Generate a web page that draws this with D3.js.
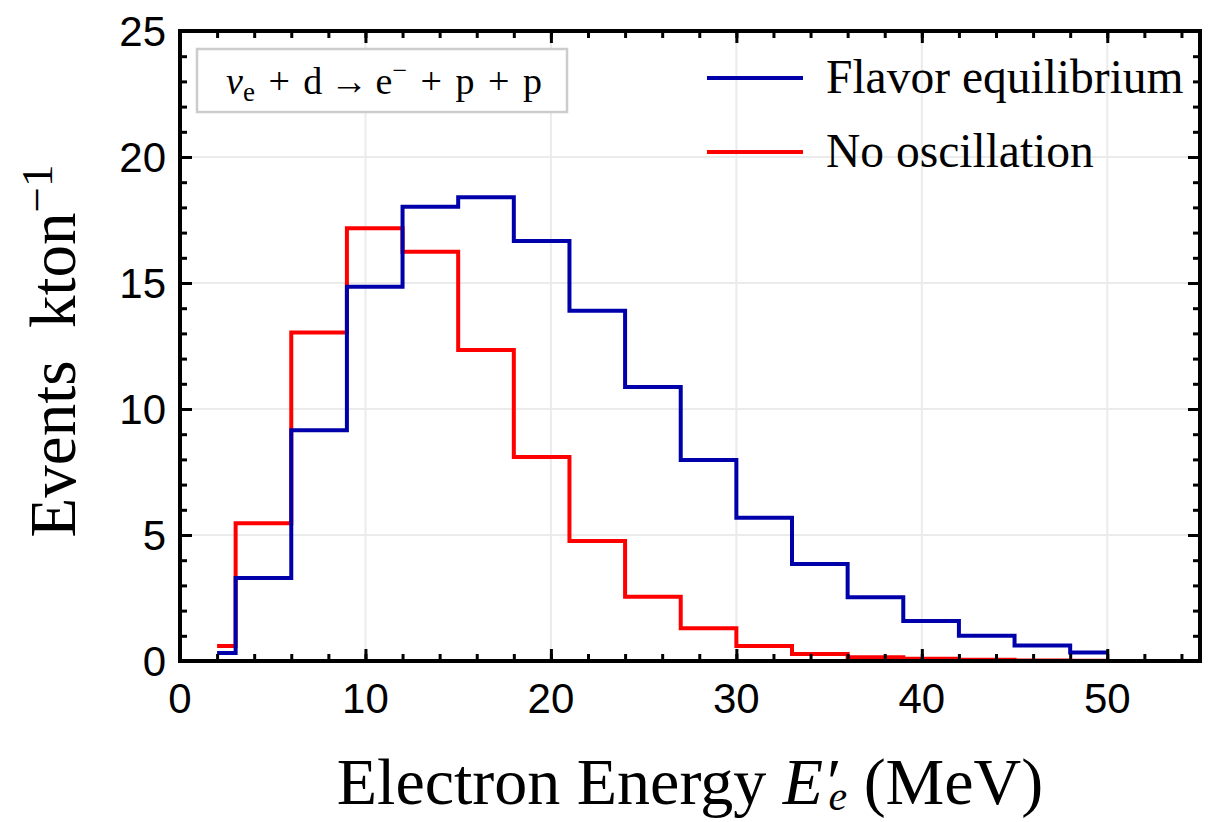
<!DOCTYPE html>
<html>
<head>
<meta charset="utf-8">
<script src="https://cdn.jsdelivr.net/npm/d3@7"></script>
<style>
  body { margin: 0; background: #fff; }
</style>
</head>
<body>
<div id="chart"></div>
<script>
// bin edges (MeV) and event counts per kton
var binEdges = [2, 3, 6, 9, 12, 15, 18, 21, 24, 27, 30, 33, 36, 39, 42, 45, 48, 50];
var flavorEq = [0.32, 3.29, 9.16, 14.85, 18.03, 18.4, 16.67, 13.9, 10.87, 7.98, 5.68, 3.85, 2.53, 1.59, 1.0, 0.62, 0.34];
var noOsc = [0.6, 5.47, 13.04, 17.17, 16.24, 12.34, 8.1, 4.76, 2.55, 1.3, 0.6, 0.28, 0.15, 0.09, 0.05, 0.02, 0.01];
var xTicks = [0, 10, 20, 30, 40, 50];
var yTicks = [0, 5, 10, 15, 20, 25];
var seriesNames = ["Flavor equilibrium", "No oscillation"];
var seriesColors = ["#0000aa", "#ff0000"];

(function(){

var width = 1218,
	height = 822;

var left = 180, right = 1200, top = 31, bottom = 661;

var svg = d3.select("#chart")
	.append("svg")
	.attr("width", width)
	.attr("height", height)

var x = d3.scaleLinear().domain([0, 55]).range([left, right])
var y = d3.scaleLinear().domain([0, 25]).range([bottom, top])

// grid
var grid = svg.append("g").attr("stroke", "#ebebeb").attr("stroke-width", 2)
grid.selectAll(".gx")
	.data(xTicks.filter(function(d){ return d > 0; }))
	.enter().append("line")
	.attr("x1", function(d){ return x(d); })
	.attr("x2", function(d){ return x(d); })
	.attr("y1", top).attr("y2", bottom)
grid.selectAll(".gy")
	.data(yTicks.filter(function(d){ return d > 0 && d < 25; }))
	.enter().append("line")
	.attr("y1", function(d){ return y(d); })
	.attr("y2", function(d){ return y(d); })
	.attr("x1", left).attr("x2", right)

// step lines
var line = d3.line()
	.x(function(d){ return x(d[0]); })
	.y(function(d){ return y(d[1]); })
	.curve(d3.curveStepAfter)

function steps(vals){
	var pts = vals.map(function(v, i){ return [binEdges[i], v]; })
	pts.push([binEdges[binEdges.length - 1], vals[vals.length - 1]])
	return pts
}

var series = [noOsc, flavorEq]
var cols = [seriesColors[1], seriesColors[0]]
svg.selectAll(".hist")
	.data(series)
	.enter().append("path")
	.attr("d", function(d){ return line(steps(d)); })
	.attr("fill", "none")
	.attr("stroke", function(d, i){ return cols[i]; })
	.attr("stroke-width", 4)
	.attr("stroke-linejoin", "miter")

// axes with inward ticks on all four sides
function tickAxis(axisFn, scale, major, minor, transform){
	var g = svg.append("g").attr("transform", transform)
	g.call(axisFn(scale).tickValues(minor).tickSize(-7).tickFormat(""))
	g.select(".domain").remove()
	var g2 = svg.append("g").attr("transform", transform)
	g2.call(axisFn(scale).tickValues(major).tickSize(-12).tickFormat(""))
	g2.select(".domain").remove()
	svg.selectAll(".tick line").attr("stroke-width", 3).attr("stroke", "#000")
}
var xMinor = d3.range(0, 55.1, 2)
var yMinor = d3.range(0, 25.1, 1)
tickAxis(d3.axisBottom, x, xTicks, xMinor, "translate(0," + bottom + ")")
tickAxis(d3.axisTop, x, xTicks, xMinor, "translate(0," + top + ")")
tickAxis(d3.axisLeft, y, yTicks, yMinor, "translate(" + left + ",0)")
tickAxis(d3.axisRight, y, yTicks, yMinor, "translate(" + right + ",0)")

// frame
svg.append("rect")
	.attr("x", left).attr("y", top)
	.attr("width", right - left).attr("height", bottom - top)
	.attr("fill", "none").attr("stroke", "#000").attr("stroke-width", 4)

// tick labels
svg.selectAll(".xl")
	.data(xTicks)
	.enter().append("text")
	.attr("x", function(d){ return x(d); })
	.attr("y", 713)
	.attr("text-anchor", "middle")
	.style("font-family", "Liberation Sans, Arial, sans-serif")
	.style("font-size", "42px")
	.text(function(d){ return d; })
svg.selectAll(".yl")
	.data(yTicks)
	.enter().append("text")
	.attr("x", 166)
	.attr("y", function(d){ return y(d) + 15; })
	.attr("text-anchor", "end")
	.style("font-family", "Liberation Sans, Arial, sans-serif")
	.style("font-size", "42px")
	.text(function(d){ return d; })

// axis titles
var serif = "Liberation Serif, Times New Roman, serif"
var xt = svg.append("text")
	.attr("x", 690).attr("y", 804)
	.attr("text-anchor", "middle")
	.style("font-family", serif)
	.style("font-size", "66px")
xt.append("tspan").text("Electron Energy ")
xt.append("tspan").style("font-style", "italic").text("E\u2032")
xt.append("tspan").style("font-style", "italic").style("font-size", "42px")
	.attr("dx", "-9").attr("dy", "6").text("e")
xt.append("tspan").attr("dy", "-6").text(" (MeV)")

var yt = svg.append("text")
	.attr("transform", "translate(75,351) rotate(-90)")
	.attr("text-anchor", "middle")
	.style("font-family", serif)
	.style("font-size", "65px")
yt.append("tspan").text("Events\u00a0\u00a0kton")
yt.append("tspan").style("font-size", "45px").attr("dy", "-23").text("\u22121")

// reaction label box
svg.append("rect")
	.attr("x", 197).attr("y", 49)
	.attr("width", 370).attr("height", 63)
	.attr("fill", "#fff").attr("stroke", "#cccccc").attr("stroke-width", 2.5)
var rt = svg.append("text")
	.attr("x", 384).attr("y", 94)
	.attr("text-anchor", "middle")
	.style("font-family", serif)
	.style("font-size", "38px")
	.style("word-spacing", "4px")
rt.append("tspan").style("font-style", "italic").text("\u03bd")
rt.append("tspan").style("font-size", "27px").attr("dy", "7").text("e")
rt.append("tspan").attr("dy", "-7").text(" + d\u2009\u2192\u2009e")
rt.append("tspan").style("font-size", "26px").attr("dy", "-15").text("\u2212")
rt.append("tspan").attr("dy", "15").text(" + p + p")

// legend
var leg = svg.selectAll(".leg")
	.data(seriesNames)
	.enter().append("g")
	.attr("transform", function(d, i){ return "translate(0," + (78 + i * 74) + ")"; })
leg.append("line")
	.attr("x1", 707).attr("x2", 803)
	.attr("stroke", function(d, i){ return seriesColors[i]; })
	.attr("stroke-width", 4)
leg.append("text")
	.attr("x", 826).attr("y", 15)
	.style("font-family", serif)
	.style("font-size", "47.5px")
	.text(function(d){ return d; })

})();
</script>
</body>
</html>
